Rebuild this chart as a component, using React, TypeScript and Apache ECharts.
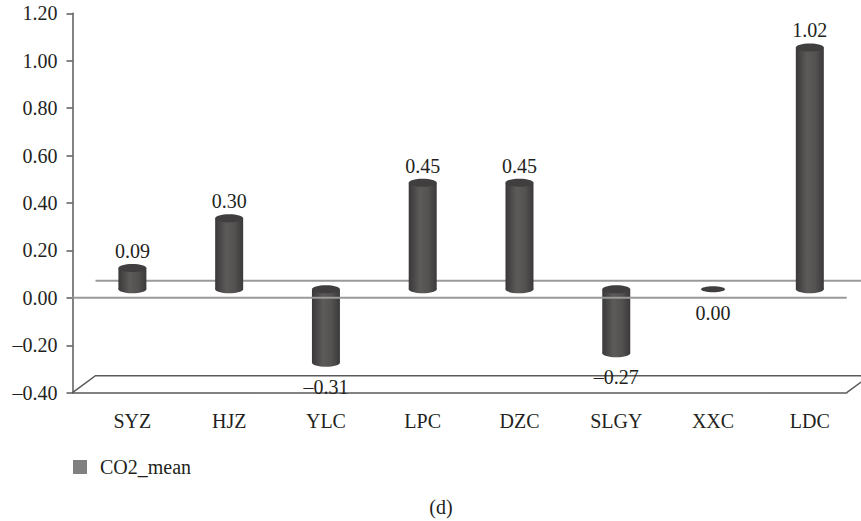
import React, { useEffect, useRef } from "react";
import * as echarts from "echarts";

const categories = ["SYZ", "HJZ", "YLC", "LPC", "DZC", "SLGY", "XXC", "LDC"];
const co2Mean = [0.09, 0.3, -0.31, 0.45, 0.45, -0.27, 0.0, 1.02];
const yMin = -0.4;
const yMax = 1.2;
const yInterval = 0.2;
const seriesName = "CO2_mean";
const panelLabel = "(d)";

const FONT = "Liberation Serif, Times New Roman, serif";
const FS = 20;
const TEXT = "#231f20";
const DX = 23;
const DY = -17;

function fmt(v: number): string {
  const s = Math.abs(v).toFixed(2);
  return v < 0 ? "\u2013" + s : s;
}

export default function App() {
  const ref = useRef<HTMLDivElement>(null);
  useEffect(() => {
    if (!ref.current) return;
    const chart = echarts.init(ref.current, undefined, { renderer: "svg" });

    const grid0 = { left: 72.5, right: 14.3, top: 13.3, bottom: 128.3 };
    const grid1 = {
      left: 72.5 + DX / 2,
      right: 14.3 - DX / 2,
      top: 13.3 + DY / 2,
      bottom: 128.3 - DY / 2,
    };

    const bodyGrad = () =>
      new echarts.graphic.LinearGradient(0, 0, 1, 0, [
        { offset: 0, color: "#3a3838" },
        { offset: 0.4, color: "#5d5a5a" },
        { offset: 0.7, color: "#545151" },
        { offset: 1, color: "#3b3939" },
      ]);

    const option: any = {
      animation: false,
      backgroundColor: "#ffffff",
      textStyle: { fontFamily: FONT },
      grid: [grid0, grid1],
      xAxis: [
        {
          type: "category",
          gridIndex: 0,
          data: categories,
          axisLine: { show: true, onZero: false, lineStyle: { color: "#5a5a5a", width: 1.5 } },
          axisTick: { show: false },
          axisLabel: { show: false },
          splitLine: { show: false },
        },
        {
          type: "category",
          gridIndex: 1,
          data: categories,
          axisLine: { show: false, onZero: false },
          axisTick: { show: false },
          axisLabel: {
            show: true,
            margin: 27,
            color: TEXT,
            fontSize: FS,
            fontFamily: FONT,
          },
          splitLine: { show: false },
        },
      ],
      yAxis: [
        {
          type: "value",
          gridIndex: 0,
          min: yMin,
          max: yMax,
          interval: yInterval,
          axisLine: { show: true, lineStyle: { color: "#5a5a5a", width: 1.5 } },
          axisTick: { show: true, length: 6, lineStyle: { color: "#5a5a5a", width: 1.5 } },
          axisLabel: {
            margin: 15,
            color: TEXT,
            fontSize: FS,
            fontFamily: FONT,
            formatter: (v: number) => fmt(v),
          },
          splitLine: { show: false },
        },
        {
          type: "value",
          gridIndex: 1,
          min: yMin,
          max: yMax,
          interval: yInterval,
          show: false,
          splitLine: { show: false },
        },
      ],
      legend: {
        data: [seriesName],
        left: 73,
        top: 457,
        padding: 0,
        icon: "rect",
        itemWidth: 14,
        itemHeight: 14,
        textStyle: { color: TEXT, fontSize: FS, fontFamily: FONT, padding: [0, 0, 0, 8] },
      },
      graphic: [
        {
          type: "text",
          x: 441,
          y: 507,
          style: {
            text: panelLabel,
            fill: TEXT,
            fontSize: FS,
            fontFamily: FONT,
            align: "center",
            verticalAlign: "middle",
          },
        },
      ],
      series: [
        {
          type: "custom",
          name: "planeBack",
          xAxisIndex: 0,
          yAxisIndex: 0,
          z: 1,
          silent: true,
          clip: false,
          data: [[0, yMin]],
          renderItem: (params: any, api: any) => {
            const cs = params.coordSys;
            const x0 = cs.x;
            const x1 = cs.x + cs.width;
            const yF = api.coord([0, yMin])[1];
            const yZ = api.coord([0, 0])[1];
            return {
              type: "group",
              children: [
                {
                  type: "polyline",
                  shape: {
                    points: [
                      [x0, yF],
                      [x0 + DX, yF + DY],
                      [x1 + DX, yF + DY],
                      [x1, yF],
                    ],
                  },
                  style: { stroke: "#5a5a5a", lineWidth: 1.5, fill: "none" },
                },
                {
                  type: "line",
                  shape: { x1: x0 + DX, y1: yZ + DY, x2: x1 + DX, y2: yZ + DY },
                  style: { stroke: "#9a9a9a", lineWidth: 2 },
                },
              ],
            };
          },
        },
        {
          type: "custom",
          name: seriesName,
          xAxisIndex: 1,
          yAxisIndex: 1,
          z: 2,
          clip: false,
          itemStyle: { color: "#808080" },
          data: co2Mean.map((v, i) => [i, v]),
          renderItem: (params: any, api: any) => {
            const i = api.value(0);
            const v = api.value(1);
            const [cx, yv] = api.coord([i, v]);
            const y0 = api.coord([i, 0])[1];
            const w = 28;
            const ry = 4;
            const top = Math.min(yv, y0);
            const bot = Math.max(yv, y0);
            const children: any[] = [];
            if (bot - top > 0.5) {
              children.push({
                type: "rect",
                shape: { x: cx - w / 2, y: top, width: w, height: bot - top },
                style: { fill: bodyGrad() },
              });
              children.push({
                type: "ellipse",
                shape: { cx, cy: bot, rx: w / 2, ry },
                style: { fill: bodyGrad() },
              });
              children.push({
                type: "ellipse",
                shape: { cx, cy: top, rx: w / 2, ry },
                style: { fill: "#403e3e" },
              });
            } else {
              children.push({
                type: "ellipse",
                shape: { cx, cy: y0, rx: 12, ry: 3 },
                style: { fill: "#403e3e" },
              });
            }
            const ly = v > 0 ? yv - 17 : yv + 24;
            children.push({
              type: "text",
              style: {
                text: fmt(v),
                x: cx,
                y: ly,
                align: "center",
                verticalAlign: "middle",
                fill: TEXT,
                fontSize: FS,
                fontFamily: FONT,
              },
            });
            return { type: "group", children };
          },
        },
        {
          type: "custom",
          name: "planeFront",
          xAxisIndex: 0,
          yAxisIndex: 0,
          z: 3,
          silent: true,
          clip: false,
          data: [[0, 0]],
          renderItem: (params: any, api: any) => {
            const cs = params.coordSys;
            const x0 = cs.x;
            const x1 = cs.x + cs.width;
            const yZ = api.coord([0, 0])[1];
            return {
              type: "line",
              shape: { x1: x0, y1: yZ, x2: x1, y2: yZ },
              style: { stroke: "#9a9a9a", lineWidth: 2 },
            };
          },
        },
      ],
    };

    chart.setOption(option);
    return () => chart.dispose();
  }, []);

  return (
    <div
      ref={ref}
      style={{ position: "absolute", left: 0, top: 0, width: 861, height: 521, background: "#fff" }}
    />
  );
}
